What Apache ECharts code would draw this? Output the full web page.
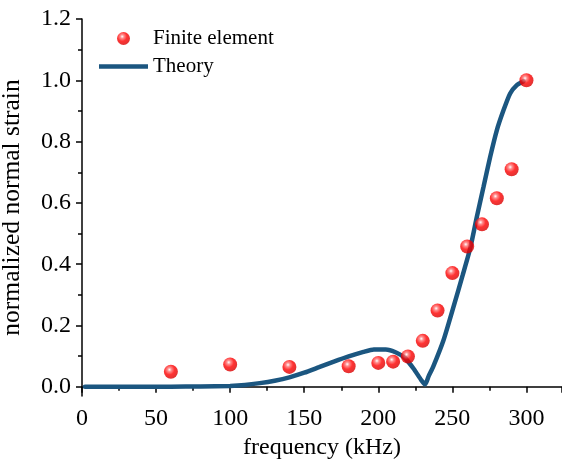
<!DOCTYPE html>
<html>
<head>
<meta charset="utf-8">
<script src="https://cdn.jsdelivr.net/npm/echarts@6/dist/echarts.min.js"></script>
<style>
  html, body { margin: 0; padding: 0; background: #fff; }
  #chart { width: 562px; height: 463px; }
</style>
</head>
<body>
<div id="chart"></div>
<script>
// Finite element results (kHz, normalized strain)
const feFreq = [60, 100, 140, 180, 200, 210, 220, 230, 240, 250, 260, 270, 280, 290, 300];
const feStrain = [0.049, 0.073, 0.065, 0.067, 0.078, 0.082, 0.099, 0.150, 0.249, 0.371, 0.458, 0.530, 0.615, 0.710, 1.0];

// Theory curve
const theoryFreq = [2, 20, 40, 60, 80, 100, 110, 120, 130, 140, 150, 160, 170, 180, 190, 197, 205, 212, 218, 224, 229, 231.6, 234, 237, 244, 251, 257, 262, 266.5, 271, 275.5, 280, 284.5, 289, 293.5, 298];
const theoryStrain = [0, 0, 0, 0.0005, 0.001, 0.003, 0.006, 0.012, 0.02, 0.031, 0.046, 0.064, 0.082, 0.099, 0.114, 0.122, 0.122, 0.112, 0.094, 0.058, 0.022, 0.008, 0.035, 0.065, 0.152, 0.265, 0.365, 0.451, 0.554, 0.652, 0.750, 0.837, 0.902, 0.957, 0.984, 0.997];

// Tick positions on the y axis
const yMajorTicks = [0, 0.2, 0.4, 0.6, 0.8, 1.0, 1.2];
const yMinorTicks = [0.1, 0.3, 0.5, 0.7, 0.9, 1.1];

let chart = echarts.init(document.getElementById('chart'));

const font = "'Liberation Serif', 'Times New Roman', serif";
const ink = '#000';
const tickFont = { fontFamily: font, fontSize: 24, color: ink };

// red ball with a white highlight
let ball = new echarts.graphic.RadialGradient(0.4, 0.35, 0.65, [
    { offset: 0, color: '#ffffff' },
    { offset: 0.22, color: '#ff7070' },
    { offset: 0.55, color: '#ff0000' },
    { offset: 1, color: '#d80000' }
]);

let option = {
    animation: false,
    grid: { left: 82, right: 0, top: 19, bottom: 67, containLabel: false, outerBoundsMode: 'none' },
    legend: {
        orient: 'vertical',
        left: 99,
        top: 28,
        padding: 0,
        itemWidth: 49,
        itemHeight: 13,
        itemGap: 7,
        textStyle: { fontFamily: font, fontSize: 21, color: ink },
        data: [
            { name: 'Finite element', icon: 'circle' },
            { name: 'Theory', icon: 'path://M0,0H49V4.5H0Z' }
        ]
    },
    xAxis: {
        type: 'value',
        min: 0,
        max: 324,
        interval: 50,
        name: 'frequency (kHz)',
        nameLocation: 'middle',
        nameGap: 38,
        nameTextStyle: { fontFamily: font, fontSize: 24, color: ink },
        axisLine: { lineStyle: { color: ink, width: 1.5 } },
        axisTick: { inside: false, length: 6, lineStyle: { color: ink, width: 1.5 } },
        minorTick: { show: true, splitNumber: 2, length: 4, lineStyle: { color: ink, width: 1.5 } },
        axisLabel: { ...tickFont, margin: 11, showMaxLabel: false },
        splitLine: { show: false }
    },
    yAxis: [{
        type: 'value',
        min: -0.03,
        max: 1.2,
        name: 'normalized normal strain',
        nameLocation: 'middle',
        nameGap: 57,
        nameTextStyle: { fontFamily: font, fontSize: 25.5, color: ink },
        axisLine: { show: true, onZero: false, lineStyle: { color: ink, width: 1.5 } },
        axisTick: { customValues: yMajorTicks, length: 6, lineStyle: { color: ink, width: 1.5 } },
        axisLabel: {
            customValues: yMajorTicks,
            ...tickFont, margin: 11,
            formatter: v => v.toFixed(1)
        },
        splitLine: { show: false }
    }, {
        // minor ticks only
        type: 'value',
        position: 'left',
        min: -0.03,
        max: 1.2,
        axisLine: { show: false },
        axisTick: { customValues: yMinorTicks, length: 4, lineStyle: { color: ink, width: 1.5 } },
        axisLabel: { show: false },
        splitLine: { show: false }
    }],
    series: [{
        name: 'Theory',
        type: 'line',
        data: theoryFreq.map((f, i) => [f, theoryStrain[i]]),
        showSymbol: false,
        symbol: 'none',
        smooth: 0.2,
        lineStyle: { color: '#1b5680', width: 4.5, cap: 'round' },
        itemStyle: { color: '#1b5680' },
        z: 2
    }, {
        name: 'Finite element',
        type: 'scatter',
        data: feFreq.map((f, i) => [f, feStrain[i]]),
        symbol: 'circle',
        symbolSize: 14,
        itemStyle: { color: ball },
        z: 3
    }]
};

chart.setOption(option);
window.onresize = () => chart.resize();
</script>
</body>
</html>
